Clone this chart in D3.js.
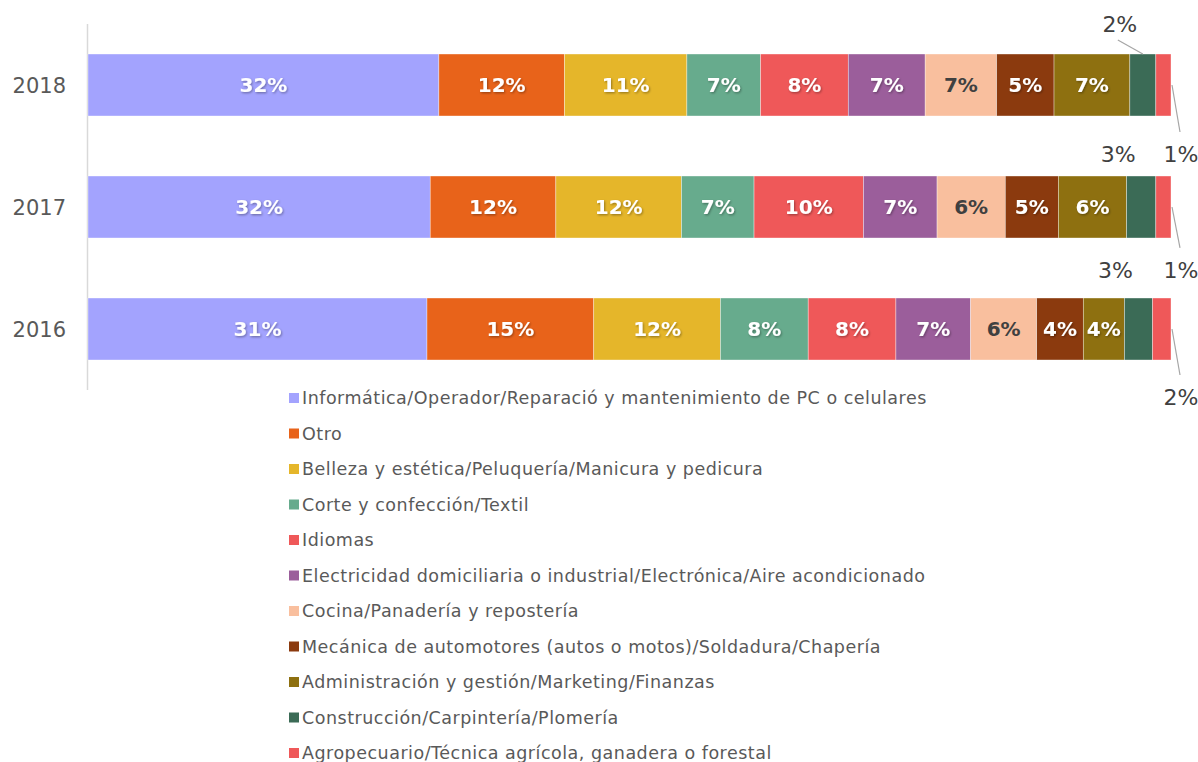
<!DOCTYPE html>
<html>
<head>
<meta charset="utf-8">
<script src="https://cdn.jsdelivr.net/npm/d3@7"></script>
<style>
  body { margin: 0; background: #fff; }
  svg text { font-family: "Century Gothic", "DejaVu Sans", sans-serif; }
</style>
</head>
<body>
<main></main>
<script>
// data (percent of each year)
const years = ["2018", "2017", "2016"];
const categories = [
  "Informática/Operador/Reparació y mantenimiento de PC o celulares",
  "Otro",
  "Belleza y estética/Peluquería/Manicura y pedicura",
  "Corte y confección/Textil",
  "Idiomas",
  "Electricidad domiciliaria o industrial/Electrónica/Aire acondicionado",
  "Cocina/Panadería y repostería",
  "Mecánica de automotores (autos o motos)/Soldadura/Chapería",
  "Administración y gestión/Marketing/Finanzas",
  "Construcción/Carpintería/Plomería",
  "Agropecuario/Técnica agrícola, ganadera o forestal"
];
const values2018 = [32.4, 11.6, 11.3, 6.8, 8.1, 7.1, 6.6, 5.3, 7.0, 2.4, 1.4];
const values2017 = [31.6, 11.6, 11.6, 6.7, 10.1, 6.8, 6.3, 4.9, 6.3, 2.7, 1.4];
const values2016 = [31.3, 15.4, 11.7, 8.1, 8.1, 6.9, 6.1, 4.3, 3.8, 2.6, 1.7];
const colours = ["#a3a3fe", "#e8631a", "#e5b62a", "#67ab8d", "#ef5859", "#9b5e9b",
                 "#f9bf9e", "#8b3a0e", "#8e7010", "#3b6b56", "#ef5859"];

const valuesByYear = { "2018": values2018, "2017": values2017, "2016": values2016 };

const width = 1198, height = 762;
const svg = d3.select("main").append("svg").attr("width", width).attr("height", height);

const defs = svg.append("defs");
defs.append("filter").attr("id", "shadow")
  .attr("x", "-20%").attr("y", "-20%").attr("width", "140%").attr("height", "140%")
  .append("feDropShadow")
  .attr("dx", 1).attr("dy", 1.2).attr("stdDeviation", 0.9)
  .attr("flood-color", "#000").attr("flood-opacity", 0.35);

const x = d3.scaleLinear().domain([0, 100]).range([88, 1171]);
const y = d3.scaleBand().domain(years).range([24, 390]).paddingInner(0.492).paddingOuter(0.246);

// stack rows
const rows = years.map(yr => {
  const obj = { year: yr };
  categories.forEach((c, i) => obj[c] = valuesByYear[yr][i]);
  return obj;
});
const series = d3.stack().keys(categories)(rows);

// axis line
svg.append("line")
  .attr("x1", x(0) - 0.5).attr("x2", x(0) - 0.5)
  .attr("y1", y.range()[0]).attr("y2", y.range()[1])
  .attr("stroke", "#d9d9d9").attr("stroke-width", 1.5);

const groups = svg.selectAll("g.series")
  .data(series)
  .enter()
  .append("g")
  .attr("class", "series")
  .attr("fill", (d, i) => colours[i]);

groups.selectAll("rect")
  .data(d => d)
  .enter()
  .append("rect")
  .attr("x", d => x(d[0]))
  .attr("y", d => y(d.data.year))
  .attr("width", d => x(d[1]) - x(d[0]))
  .attr("height", y.bandwidth())
  .attr("stroke", "#fff").attr("stroke-width", 0.6).attr("stroke-opacity", 0.6);

// inside labels (skip the two smallest categories)
const fmt = v => Math.round(v) + "%";
groups.each(function (s, i) {
  if (i >= 9) return;
  d3.select(this).selectAll("text")
    .data(s)
    .enter()
    .append("text")
    .attr("x", d => (x(d[0]) + x(d[1])) / 2)
    .attr("y", d => y(d.data.year) + y.bandwidth() / 2 + 7)
    .attr("text-anchor", "middle")
    .attr("font-size", "20px")
    .attr("font-weight", "bold")
    .attr("fill", i === 6 ? "#404040" : "#ffffff")
    .attr("filter", i === 6 ? null : "url(#shadow)")
    .text(d => fmt(d[1] - d[0]));
});

// year labels
svg.selectAll("text.year")
  .data(years)
  .enter()
  .append("text")
  .attr("class", "year")
  .attr("x", 66)
  .attr("y", d => y(d) + y.bandwidth() / 2 + 8)
  .attr("text-anchor", "end")
  .attr("font-size", "21px")
  .attr("fill", "#595959")
  .text(d => d);

// outside labels for Construcción (above) and Agropecuario (below right)
const consLabelDy = { "2018": -22, "2017": -14, "2016": -20 };
const agroLabelDy = { "2018": 46, "2017": 40, "2016": 45 };
const cons = series[9], agro = series[10];

cons.forEach(d => {
  const yr = d.data.year;
  const cx = (x(d[0]) + x(d[1])) / 2;
  const ly = y(yr) + consLabelDy[yr];
  if (yr === "2018") {
    svg.append("line")
      .attr("x1", cx - 25).attr("y1", ly + 8)
      .attr("x2", cx).attr("y2", y(yr))
      .attr("stroke", "#a6a6a6").attr("stroke-width", 1.2);
  }
  svg.append("text")
    .attr("x", cx - 23).attr("y", ly)
    .attr("text-anchor", "middle")
    .attr("font-size", "22px").attr("fill", "#404040")
    .text(fmt(d[1] - d[0]));
});

agro.forEach(d => {
  const yr = d.data.year;
  const xe = x(d[1]);
  const ly = y(yr) + y.bandwidth() + agroLabelDy[yr];
  svg.append("line")
    .attr("x1", xe + 1).attr("y1", y(yr) + y.bandwidth() / 2)
    .attr("x2", xe + 9).attr("y2", ly - 30)
    .attr("stroke", "#a6a6a6").attr("stroke-width", 1.2);
  svg.append("text")
    .attr("x", xe + 10).attr("y", ly)
    .attr("text-anchor", "middle")
    .attr("font-size", "22px").attr("fill", "#404040")
    .text(fmt(d[1] - d[0]));
});

// legend
const legend = svg.append("g").attr("transform", "translate(289,398)");
const item = legend.selectAll("g")
  .data(categories)
  .enter()
  .append("g")
  .attr("transform", (d, i) => `translate(0,${i * 35.5})`);
item.append("rect")
  .attr("x", 0).attr("y", -5).attr("width", 10).attr("height", 10)
  .attr("fill", (d, i) => colours[i]);
item.append("text")
  .attr("x", 13).attr("y", 6)
  .attr("font-size", "17.5px").attr("letter-spacing", "0.5px").attr("fill", "#595959")
  .text(d => d);
</script>
</body>
</html>
